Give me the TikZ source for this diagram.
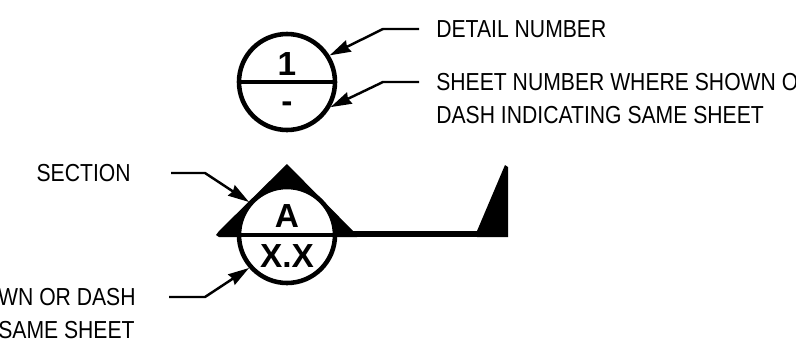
\documentclass[tikz,border=0pt]{standalone}
\usepackage{fontspec}
\setmainfont{Liberation Sans}
\newfontfamily\calloutfont[FakeStretch=0.86]{Liberation Sans}
\usetikzlibrary{positioning,arrows.meta}

\tikzset{
    callout/.style={font=\calloutfont\fontsize{14}{16}\selectfont,inner sep=0pt},
    bubble/.style={circle,draw,line width=2.6pt,fill=white,minimum size=96*0.02cm,inner sep=0pt},
    leader/.style={line width=1.4pt,-{Stealth[length=12pt,width=7pt,inset=1pt]}},
    bubbletext/.style={font=\fontsize{19}{21}\selectfont\bfseries,inner sep=0pt}
}

\begin{document}
\begin{tikzpicture}[x=0.02cm,y=-0.02cm]
\useasboundingbox (0,0) rectangle (796,342);

% Detail bubble
\node[bubble] (detail) at (287,82) {};
\draw[line width=1.8pt] (detail.west) -- (detail.east);
\node[bubbletext] (detailnum) at (287,64) {1};
\node[bubbletext] (detaildash) at (287,107) {-};

% Section marker, triangles first so the bubble covers them
\fill[line join=round] (216,235) -- (219,231) -- (287,164) -- (357,235) -- (357,237) -- (219,237) -- cycle;
\fill[line join=round] (477,231) -- (505,165) -- (508,167) -- (508,237) -- (477,237) -- cycle;
\coordinate (cutstart) at (350,234);
\coordinate (cutend) at (508,234);
\draw[line width=3.4pt] (cutstart) -- (cutend);
\node[bubble] (section) at (287,235) {};
\draw[line width=2pt] (section.west) -- (section.east);
\node[bubbletext] (sectionname) at (287,216) {A};
\node[bubbletext] (sectionsheet) at (287,256) {X.X};

% Labels
\node[callout,right] (detaillabel) at (436,29) {DETAIL NUMBER};
\node[callout,right] (sheetlabel) at (436,82) {SHEET NUMBER WHERE SHOWN O};
\node[callout,right] (dashlabel) at (436,115) {DASH INDICATING SAME SHEET};
\node[callout,left] (sectionlabel) at (131,173) {SECTION};
\node[callout,left] (shownlabel) at (136,297) {WN OR DASH};
\node[callout,left] (samelabel) at (135,330) {SAME SHEET};

% Leaders
\coordinate (detailstart) at (419,29);
\coordinate (sheetstart) at (419,82);
\coordinate (sectionstart) at (171,173);
\coordinate (shownstart) at (169,297);
\draw[leader] (detailstart) -- (383,29) -- (detail.32);
\draw[leader] (sheetstart) -- (383,82) -- (detail.-30);
\draw[leader] (sectionstart) -- (205,173) -- (section.139);
\draw[leader] (shownstart) -- (205,297) -- (section.-139);
\end{tikzpicture}
\end{document}
